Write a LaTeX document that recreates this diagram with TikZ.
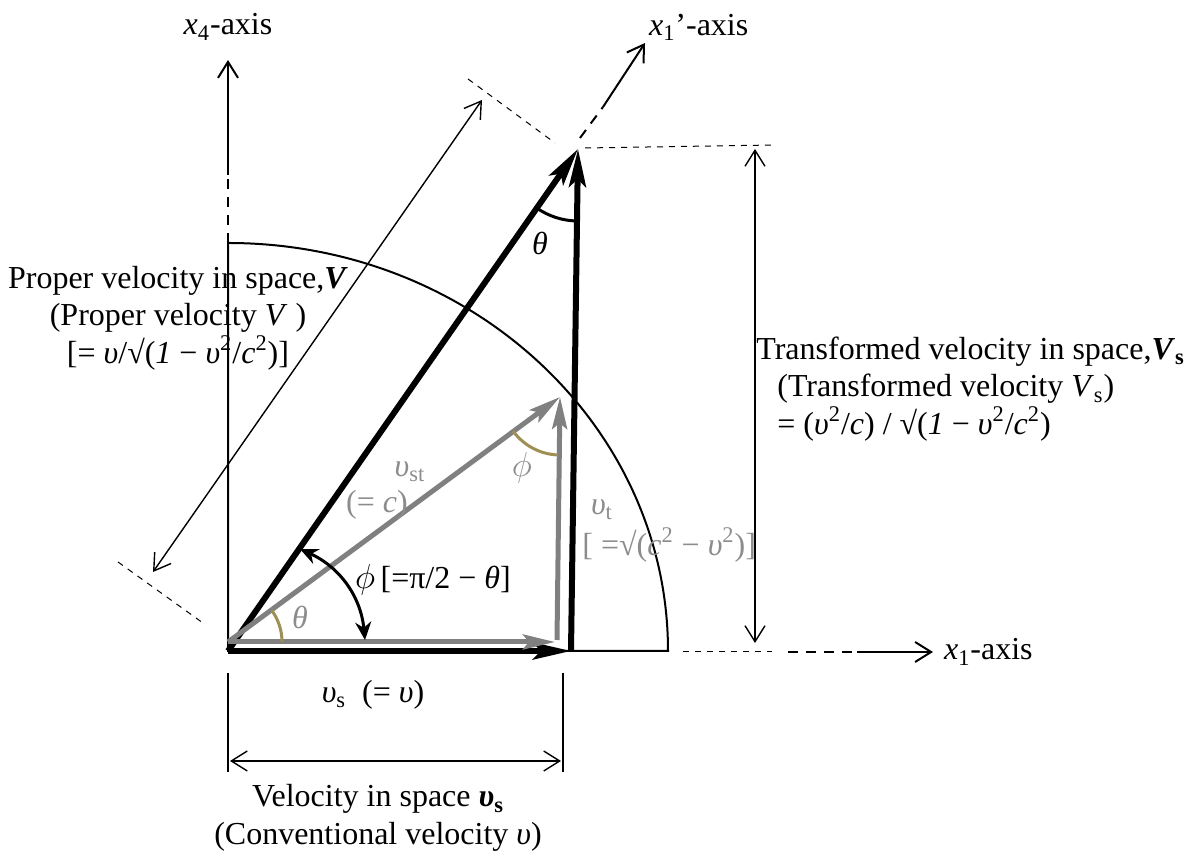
\documentclass[tikz,border=0pt]{standalone}
\usepackage{fontspec}
\setmainfont{Liberation Serif}
\usepackage{tikz}
\usetikzlibrary{arrows.meta,positioning,calc}
\definecolor{vgray}{HTML}{808080}
\definecolor{vtext}{HTML}{8C8C8C}
\definecolor{volive}{HTML}{9E9055}
\newcommand{\ups}{\textit{υ}}

\begin{document}
\begin{tikzpicture}[x=0.5pt,y=0.5pt,
  every node/.style={font=\fontsize{16}{18.7}\selectfont},
  thinarrow/.style={line width=0.8pt,-{Straight Barb[length=8pt,width=10pt]}},
  dimarrow/.style={line width=0.7pt,{Straight Barb[length=8pt,width=10pt]}-{Straight Barb[length=8pt,width=10pt]}},
  bigvec/.style={line width=3pt,-{Stealth[length=19pt,width=8.5pt,inset=4pt]}},
  grayvec/.style={vgray,line width=2.5pt,-{Stealth[length=16pt,width=7.5pt,inset=3pt]}},
  extline/.style={line width=0.5pt,dash pattern=on 3pt off 3pt},
  axisdash/.style={line width=1pt,dash pattern=on 5pt off 4pt}]
\useasboundingbox (0,0) rectangle (1188,854);

% points of the triangles
\coordinate (O) at (228,203);
\coordinate (B) at (571,203);
\coordinate (A) at (578,705);
\coordinate (G) at (228,212);
\coordinate (GH) at (555,212);
\coordinate (GV) at (557,214);
\coordinate (GA) at (560,457);
\coordinate (E) at (668,203);

% quarter ellipse
\draw[line width=1pt] (O) -- (E) arc[start angle=0,end angle=90,x radius=440,y radius=408] -- cycle;

% black vectors
\draw[bigvec] (O) -- (B);
\draw[bigvec] (B) -- (A);
\draw[bigvec] (O) -- (A);

% gray vectors
\draw[grayvec] (G) -- (GH);
\draw[grayvec] (GV) -- (GA);
\draw[grayvec] (G) -- (GA);

% angles
\draw[volive,line width=1.5pt] ($(G)+(54,0)$) arc[start angle=0,end angle=36,radius=54];
\draw[volive,line width=1.5pt] ($(GA)+(216:58)$) arc[start angle=216,end angle=268,radius=58];
\draw[line width=1.5pt] ($(A)+(235:72)$) arc[start angle=235,end angle=269,radius=72];
\coordinate (P1) at (300,305);
\coordinate (P2) at (365,214);
\draw[line width=1.5pt,{Stealth[length=9pt,width=8pt]}-{Stealth[length=9pt,width=8pt]}]
  (P1) to[bend left=30] (P2);

% axes
\coordinate (Y0) at (228,679);
\coordinate (Y1) at (228,794);
\draw[axisdash] (228,611) -- (228,676);
\draw[thinarrow,line width=1pt] (Y0) -- (Y1);
\node (x4lab) at (228,827) {\textit{x}\textsubscript{4}-axis};

\coordinate (X0) at (857,202);
\coordinate (X1) at (933,202);
\draw[axisdash] (788,202) -- (X0);
\draw[thinarrow,line width=1pt] (X0) -- (X1);
\node[right=2pt of X1] (x1lab) {\textit{x}\textsubscript{1}-axis};

\coordinate (Z0) at (603,747);
\coordinate (Z1) at (645,811);
\draw[axisdash] (580,716) -- (Z0);
\draw[thinarrow,line width=1pt] (Z0) -- (Z1);
\node[anchor=west] (x1plab) at (642,827) {\textit{x}\textsubscript{1}’-axis};

% dimension lines
\draw[extline] (118,292) -- (203,231);
\draw[extline] (468,775) -- (555,711);
\draw[dimarrow] (153,282) -- (482,754);

\draw[extline] (585,706) -- (775,709);
\draw[extline] (683,202) -- (772,202);
\draw[dimarrow] (755,705) -- (755,211);

\draw[line width=0.7pt] (228,181) -- (228,82);
\draw[line width=0.7pt] (563,181) -- (563,82);
\draw[dimarrow] (230,93) -- (561,93);

% labels
\node[align=center] (Vlab) at (178,536) {Proper velocity in space,\textbf{\textit{V}}\\
  (Proper velocity \textit{V} )\\
  {}[= \ups/√(\textit{1} − \ups\textsuperscript{2}/\textit{c}\textsuperscript{2})]};
\node[align=left,anchor=west,inner sep=0pt] (Vslab) at (756,465) {Transformed velocity in space,\textbf{\textit{V}\textsubscript{s}}\\
  \hspace*{10.5pt}(Transformed velocity \textit{V}\textsubscript{s})\\
  \hspace*{10.5pt}= (\ups\textsuperscript{2}/\textit{c}) / √(\textit{1} − \ups\textsuperscript{2}/\textit{c}\textsuperscript{2})};
\node (vslab) at (373,159) {\ups\textsubscript{s}\ \ (= \ups)};
\node[align=center] (vsdef) at (378,36) {Velocity in space \textbf{\textit{υ}\textsubscript{s}}\\
  (Conventional velocity \ups)};
\node (philab) at (433,274) {$\phi$\,[=π/2 − \textit{θ}]};

\node[text=vtext] (vstlab) at (410,382) {\ups\textsubscript{st}};
\node[text=vtext] (eqc) at (377,349) {(= \textit{c})};
\node[text=vtext] (vtlab) at (602,344) {\ups\textsubscript{t}};
\node[text=vtext,anchor=west,inner sep=0pt] (vteq) at (582,309) {[ =√(\textit{c}\textsuperscript{2} − \ups\textsuperscript{2})]};
\node[text=vtext] (thg) at (300,237) {\textit{θ}};
\node[text=vtext] (phg) at (522,386) {$\phi$};
\node (thb) at (540,611) {\textit{θ}};
\end{tikzpicture}
\end{document}
